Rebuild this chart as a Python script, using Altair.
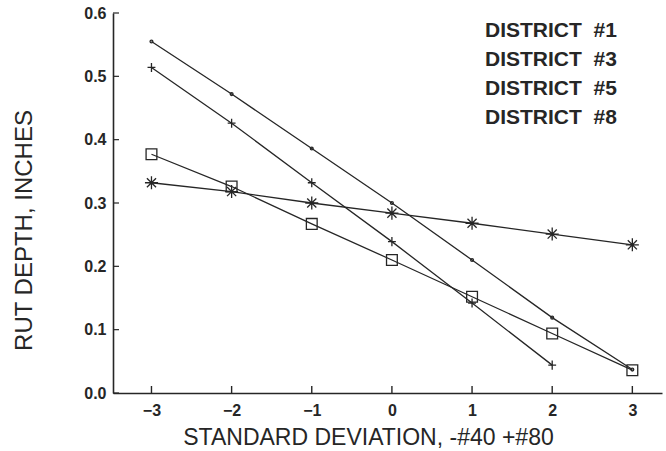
import altair as alt
import pandas as pd

# ---- data ----
sd = [-3, -2, -1, 0, 1, 2, 3]
district_1 = [0.555, 0.472, 0.386, 0.300, 0.210, 0.119, 0.037]
district_3 = [0.514, 0.426, 0.332, 0.239, 0.142, 0.044]          # no point at +3
district_5 = [0.377, 0.326, 0.267, 0.210, 0.152, 0.094, 0.036]
district_8 = [0.332, 0.318, 0.300, 0.284, 0.268, 0.251, 0.234]
districts = ["DISTRICT \u00a0#1", "DISTRICT \u00a0#3", "DISTRICT \u00a0#5", "DISTRICT \u00a0#8"]
y_ticks = [0.0, 0.1, 0.2, 0.3, 0.4, 0.5, 0.6]
x_ticks = [-3, -2, -1, 0, 1, 2, 3]

rows = []
for name, vals in zip(districts, [district_1, district_3, district_5, district_8]):
    for x, v in zip(sd, vals):
        rows.append({"sd": x, "rut": v, "district": name})
df = pd.DataFrame(rows)

INK = "#262626"
FONT = "Liberation Sans, Arial, Helvetica, sans-serif"
PLUS = "M-1,0L1,0M0,-1.15L0,1.15"
AST = "M-1,0L1,0M0,-1L0,1M-0.7,-0.7L0.7,0.7M-0.7,0.7L0.7,-0.7"

xscale = alt.Scale(domain=[-3.48, 3.37], nice=False, zero=False)
yscale = alt.Scale(domain=[0, 0.6], nice=False)

x_enc = alt.X(
    "sd:Q", scale=xscale,
    axis=alt.Axis(
        values=x_ticks, format="d", ticks=False, grid=False,
        domainColor=INK, domainWidth=1.6,
        labelFont=FONT, labelFontSize=16, labelFontWeight="bold", labelColor=INK,
        labelPadding=9,
        title="STANDARD DEVIATION, -#40 +#80", titleFont=FONT, titleFontSize=23,
        titleFontWeight="normal", titleColor=INK,
        titleX=255, titleY=44, titleBaseline="middle",
    ),
)
y_enc = alt.Y(
    "rut:Q", scale=yscale,
    axis=alt.Axis(
        values=y_ticks, format=".1f", ticks=False, grid=False,
        domainColor=INK, domainWidth=1.6,
        labelFont=FONT, labelFontSize=16, labelFontWeight="bold", labelColor=INK,
        labelPadding=7,
        title="RUT DEPTH, INCHES", titleFont=FONT, titleFontSize=24,
        titleFontWeight="normal", titleColor=INK,
        titleX=-89, titleY=217, titleBaseline="middle", titleAngle=-90,
    ),
)

base = alt.Chart(df)

lines = base.mark_line(strokeWidth=1.3).encode(
    x=x_enc, y=y_enc,
    detail="district:N",
    color=alt.Color(
        "district:N",
        scale=alt.Scale(domain=districts, range=[INK] * 4),
        legend=alt.Legend(
            title=None, orient="none", legendX=351, legendY=7,
            symbolSize=0, symbolOpacity=0, symbolStrokeWidth=0, labelOffset=0,
            labelFont=FONT, labelFontSize=21, labelFontWeight="bold",
            labelColor=INK, rowPadding=7, labelLimit=300,
        ),
    ),
)

points = base.mark_point(filled=False, strokeWidth=1.3, color=INK, opacity=1).encode(
    x=alt.X("sd:Q", scale=xscale),
    y=alt.Y("rut:Q", scale=yscale),
    shape=alt.Shape("district:N",
                    scale=alt.Scale(domain=districts, range=["circle", PLUS, "square", AST]),
                    legend=None),
    size=alt.Size("district:N",
                  scale=alt.Scale(domain=districts, range=[8, 170, 120, 150]),
                  legend=None),
)

ytick_df = pd.DataFrame({"v": y_ticks})
xtick_df = pd.DataFrame({"v": x_ticks})

yticks = alt.Chart(ytick_df).mark_rule(color=INK, strokeWidth=1.2).encode(
    y=alt.Y("v:Q", scale=yscale), x=alt.value(0), x2=alt.value(6)
)
xticks = alt.Chart(xtick_df).mark_rule(color=INK, strokeWidth=1.4).encode(
    x=alt.X("v:Q", scale=xscale), y=alt.value(380), y2=alt.value(373)
)

chart = (
    alt.layer(lines, points, yticks, xticks)
    .properties(
        width=549, height=380,
        autosize=alt.AutoSizeParams(type="none"),
        padding={"left": 113, "top": 13, "right": 4, "bottom": 58},
        background="white",
    )
    .configure_view(stroke=None)
)

chart.save("out.html", embed_options={"renderer": "svg", "actions": False})
